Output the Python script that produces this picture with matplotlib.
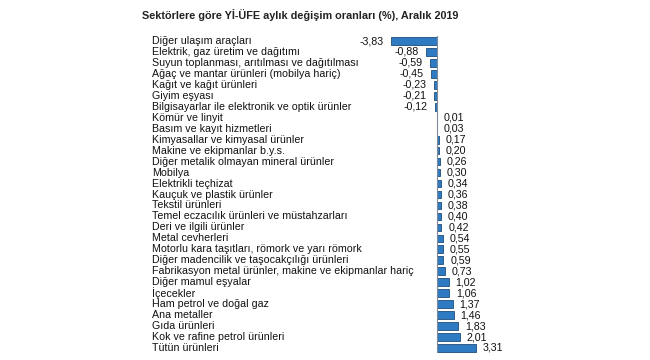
import matplotlib
matplotlib.use("Agg")
import matplotlib.pyplot as plt
import matplotlib.transforms as mtransforms

categories = [
    "Diğer ulaşım araçları",
    "Elektrik, gaz üretim ve dağıtımı",
    "Suyun toplanması, arıtılması ve dağıtılması",
    "Ağaç ve mantar ürünleri (mobilya hariç)",
    "Kağıt ve kağıt ürünleri",
    "Giyim eşyası",
    "Bilgisayarlar ile elektronik ve optik ürünler",
    "Kömür ve linyit",
    "Basım ve kayıt hizmetleri",
    "Kimyasallar ve kimyasal ürünler",
    "Makine ve ekipmanlar b.y.s.",
    "Diğer metalik olmayan mineral ürünler",
    "Mobilya",
    "Elektrikli teçhizat",
    "Kauçuk ve plastik ürünler",
    "Tekstil ürünleri",
    "Temel eczacılık ürünleri ve müstahzarları",
    "Deri ve ilgili ürünler",
    "Metal cevherleri",
    "Motorlu kara taşıtları, römork ve yarı römork",
    "Diğer madencilik ve taşocakçılığı ürünleri",
    "Fabrikasyon metal ürünler, makine ve ekipmanlar hariç",
    "Diğer mamul eşyalar",
    "İçecekler",
    "Ham petrol ve doğal gaz",
    "Ana metaller",
    "Gıda ürünleri",
    "Kok ve rafine petrol ürünleri",
    "Tütün ürünleri",
]
values = [-3.83, -0.88, -0.59, -0.45, -0.23, -0.21, -0.12, 0.01, 0.03, 0.17,
          0.20, 0.26, 0.30, 0.34, 0.36, 0.38, 0.40, 0.42, 0.54, 0.55, 0.59,
          0.73, 1.02, 1.06, 1.37, 1.46, 1.83, 2.01, 3.31]
title = "Sektörlere göre Yİ-ÜFE aylık değişim oranları (%), Aralık 2019"

plt.rcParams['font.family'] = ['Liberation Sans', 'DejaVu Sans']

W, H = 650, 360
fig = plt.figure(figsize=(W / 100, H / 100), dpi=100)
fig.patch.set_facecolor("white")

n = len(categories)
ax_l, ax_r = 380, 500
row_top, row_bot = 41, 348
sp = (row_bot - row_top) / (n - 1)
ax_top = row_top - sp / 2
ax_bot = row_bot + sp / 2
ax = fig.add_axes([ax_l / W, 1 - ax_bot / H, (ax_r - ax_l) / W, (ax_bot - ax_top) / H])

zero_px = 436.5
scale = 11.85
ax.set_xlim((ax_l - zero_px) / scale, (ax_r - zero_px) / scale)
ax.set_ylim(n - 0.5, -0.5)

ypos = list(range(n))
ax.barh(ypos, values, height=0.7, color="#2E7BC4", edgecolor="#1F4E79", linewidth=0.6, zorder=2)
ax.axvline(0, color="#7f8a99", linewidth=0.8, zorder=3)

fs = 7.7
for y, v in zip(ypos, values):
    s = f"{v:.2f}".replace(".", ",")
    if v < 0:
        ax.annotate(s, (v, y), xytext=(-5.2, 0), textcoords="offset points",
                    ha="right", va="center", fontsize=fs, color="#111111")
    else:
        ax.annotate(s, (v, y), xytext=(4.8, 0), textcoords="offset points",
                    ha="left", va="center", fontsize=fs, color="#111111", annotation_clip=False)

trans = mtransforms.blended_transform_factory(fig.transFigure, ax.transData)
for y, c in zip(ypos, categories):
    ax.text(152 / W, y, c, transform=trans, ha="left", va="center", fontsize=fs, color="#111111")

ax.set_xticks([])
ax.set_yticks([])
for s in ax.spines.values():
    s.set_visible(False)
ax.patch.set_alpha(0)

fig.text(300 / W, 1 - 15 / H, title, ha="center", va="center", fontsize=7.8, fontweight="bold", color="#222222")

fig.savefig("out.png", dpi=100, facecolor="white")
